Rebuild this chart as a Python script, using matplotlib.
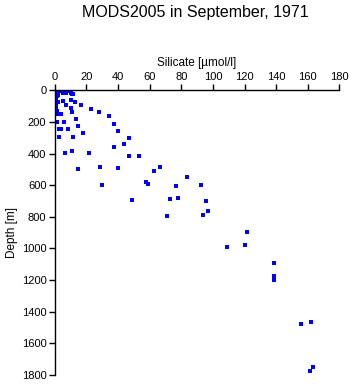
import matplotlib
matplotlib.use('Agg')
import matplotlib.pyplot as plt

plt.rcParams['font.family'] = ['Liberation Sans', 'DejaVu Sans']

# silicate [umol/l] and depth [m]
silicate = [0.6, 1.6, 2.9, 4.0, 5.1, 7.0, 9.7, 10.3, 10.9, 11.8,
            1.3, 2.3, 0.8, 5.1, 10.3, 1.9, 7.0, 12.8, 16.8, 0.8,
            10.3, 10.9, 0.8, 1.6, 22.8, 28.0, 1.6, 4.0, 34.2, 13.3,
            1.6, 6.1, 14.9, 2.9, 4.0, 8.2, 17.9, 37.7, 39.8, 46.8,
            44.0, 2.7, 11.8, 37.7, 46.8, 53.5, 6.7, 10.9, 21.9, 14.9,
            28.8, 39.8, 63.0, 66.8, 83.9, 29.9, 57.9, 59.0, 76.9, 92.7,
            48.9, 72.7, 77.8, 95.9, 70.8, 97.0, 94.0, 121.8, 120.0, 108.8,
            138.9, 138.9, 138.9, 156.0, 161.9, 163.6, 161.7]
depth = [15, 4, 3, 4, 15, 15, 4, 15, 21, 25,
         36, 32, 53, 68, 61, 74, 93, 74, 95, 99,
         114, 135, 126, 131, 120, 137, 151, 151, 162, 179,
         200, 198, 225, 246, 246, 246, 271, 213, 259, 303,
         339, 297, 297, 360, 417, 415, 398, 385, 396, 499,
         486, 492, 511, 484, 549, 599, 581, 591, 606, 598,
         694, 686, 678, 700, 793, 766, 787, 896, 978, 991,
         1094, 1172, 1197, 1479, 1464, 1750, 1776]

xticks = [0, 20, 40, 60, 80, 100, 120, 140, 160, 180]
yticks = [0, 200, 400, 600, 800, 1000, 1200, 1400, 1600, 1800]

fig = plt.figure(figsize=(3.51, 3.84), dpi=100)
ax = fig.add_axes([0.156, 0.0234, 0.811, 0.7416])

ax.plot(silicate, depth, linestyle='none', marker='s', markersize=2.4,
        color='#0000ff', markeredgewidth=0)

ax.set_xlim(0, 180)
ax.set_ylim(1800, 0)
ax.set_xticks(xticks)
ax.set_yticks(yticks)
ax.xaxis.tick_top()
ax.xaxis.set_label_position('top')
ax.tick_params(axis='both', direction='out', length=4, width=1,
               labelsize=8, pad=2, colors='black')
for side in ['right', 'bottom']:
    ax.spines[side].set_visible(False)
for side in ['left', 'top']:
    ax.spines[side].set_linewidth(1)

ax.set_xlabel('Silicate [µmol/l]', fontsize=8.5, labelpad=4)
ax.set_ylabel('Depth [m]', fontsize=8.5, labelpad=3)

fig.text(0.556, 0.968, 'MODS2005 in September, 1971', ha='center', va='center',
         fontsize=11.5)

fig.savefig('out.png', dpi=100)
